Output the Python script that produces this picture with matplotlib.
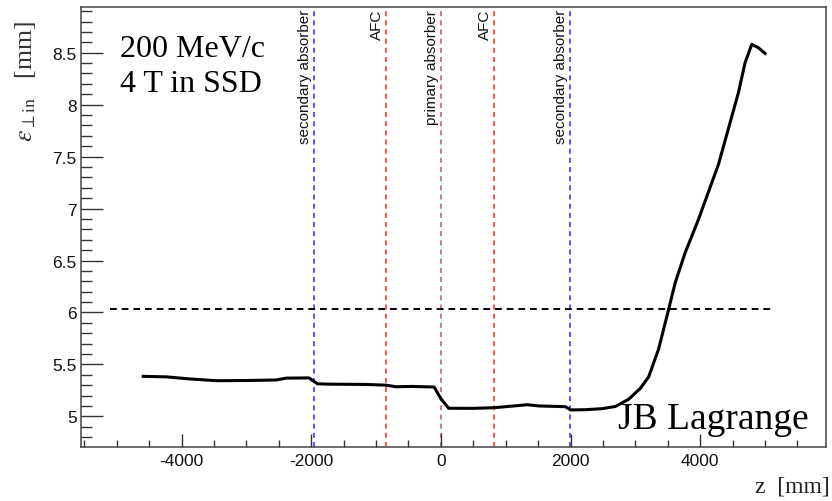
import matplotlib
matplotlib.use("Agg")
import matplotlib.pyplot as plt
from matplotlib.ticker import MultipleLocator, FormatStrFormatter
import matplotlib.transforms as mtransforms

plt.rcParams['mathtext.fontset'] = 'stix'

# curve data
z = [-4590, -4230, -3870, -3460, -3000, -2540, -2385, -2030, -1990, -1900,
     -1720, -1150, -846, -690, -436, -103, 0, 120, 486, 820, 1051, 1333,
     1513, 1923, 2000, 2231, 2487, 2692, 2900, 3077, 3205, 3358, 3513,
     3615, 3769, 3974, 4282, 4589, 4692, 4795, 4897, 5000]
eps = [5.385, 5.38, 5.36, 5.343, 5.345, 5.35, 5.368, 5.37, 5.35, 5.313,
       5.31, 5.307, 5.30, 5.285, 5.288, 5.282, 5.17, 5.078, 5.077, 5.083,
       5.096, 5.112, 5.10, 5.093, 5.062, 5.064, 5.074, 5.095, 5.166, 5.27,
       5.38, 5.647, 6.03, 6.288, 6.577, 6.897, 7.426, 8.115, 8.404, 8.58,
       8.548, 8.493]

# reference level
ref_level = 6.03
ref_range = [-5100, 5100]

# element positions
elem_z = [-1950, -840, 0, 820, 1985]
elem_names = ["secondary absorber", "AFC", "primary absorber", "AFC", "secondary absorber"]
elem_colors = ["#3a3aff", "#ff3a3a", "#b86878", "#ff3a3a", "#3a3aff"]

fig = plt.figure(figsize=(8.32, 5.02), dpi=100)
ax = fig.add_axes([81/832, 1-448/502, (826-81)/832, (448-8)/502])

ax.set_xlim(-5550, 5940)
ax.set_ylim(4.705, 8.94)

for zz, name, col in zip(elem_z, elem_names, elem_colors):
    ax.axvline(zz, color=col, lw=1.2, ls=(0, (3, 2.5)), zorder=1)
    trans = mtransforms.blended_transform_factory(ax.transData, ax.transAxes) + \
        mtransforms.ScaledTranslation(-2/100, -2/100, fig.dpi_scale_trans)
    ax.text(zz, 1.0, name, transform=trans, rotation=90, ha='right', va='top',
            fontsize=11, family='Liberation Sans', color='#111111')

ax.plot(ref_range, [ref_level, ref_level], color='black', lw=1.4, ls=(0, (3.5, 2.5)), zorder=2)
ax.plot(z, eps, color='black', lw=2.2, zorder=3, solid_joinstyle='round')

# ticks
ax.xaxis.set_major_locator(MultipleLocator(2000))
ax.xaxis.set_minor_locator(MultipleLocator(500))
ax.yaxis.set_major_locator(MultipleLocator(0.5))
ax.yaxis.set_minor_locator(MultipleLocator(0.1))
ax.yaxis.set_major_formatter(FormatStrFormatter('%g'))
ax.xaxis.set_major_formatter(FormatStrFormatter('%g'))
ax.tick_params(axis='both', which='both', direction='in', top=False, right=False,
               color='#333333', width=1.0)
ax.tick_params(axis='y', which='major', length=16, pad=3)
ax.tick_params(axis='y', which='minor', length=8)
ax.tick_params(axis='x', which='major', length=9.5, pad=4)
ax.tick_params(axis='x', which='minor', length=5)
for lab in ax.get_xticklabels() + ax.get_yticklabels():
    lab.set_family('Liberation Sans')
    lab.set_fontsize(12.5)
    lab.set_color('#111111')
for sp in ax.spines.values():
    sp.set_color('#444444')
    sp.set_linewidth(1.1)

# texts
fig.text(120/832, 1-57/502, "200 MeV/c", family='Liberation Serif', fontsize=23, va='baseline')
fig.text(120/832, 1-92/502, "4 T in SSD", family='Liberation Serif', fontsize=23, va='baseline')
fig.text(618/832, 1-429/502, "JB Lagrange", family='Liberation Serif', fontsize=27, va='baseline')

fig.text(25/832, 1-21/502, r"$\varepsilon_{\perp\mathrm{in}}$   [mm]", family='Liberation Serif',
         fontsize=18.5, rotation=90, ha='center', va='top', color='#333333')
fig.text(830/832, 1-487/502, "z  [mm]", family='Liberation Serif',
         fontsize=17, ha='right', va='center', color='#222222')

fig.savefig("out.png", dpi=100)
